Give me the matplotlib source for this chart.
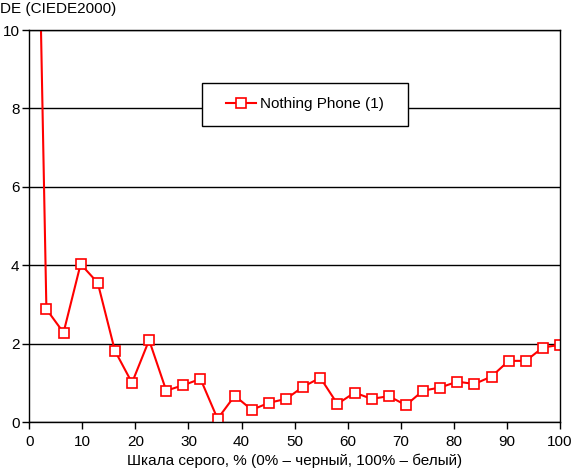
import matplotlib
matplotlib.use("Agg")
import matplotlib.pyplot as plt
from matplotlib.patches import Rectangle
import numpy as np

plt.rcParams['font.family'] = ['Liberation Sans', 'DejaVu Sans']

# grey level, % and DE values
gray = np.arange(32) * 100 / 31
de = [25.4, 2.88, 2.28, 4.03, 3.55, 1.82, 1.00, 2.09, 0.80, 0.94, 1.10,
      0.08, 0.67, 0.31, 0.49, 0.59, 0.90, 1.13, 0.46, 0.75, 0.59, 0.66,
      0.43, 0.80, 0.88, 1.03, 0.97, 1.16, 1.56, 1.56, 1.90, 1.97]
series_name = "Nothing Phone (1)"
xticks = list(range(0, 101, 10))
yticks = list(range(0, 11, 2))

fig = plt.figure(figsize=(5.73, 4.72), dpi=100)
ax = fig.add_axes([0.0511, 0.1059, 0.9262, 0.8305])

ax.plot(gray, de, color='#ff0000', lw=1.5, marker='s', ms=6.8,
        mfc='white', mec='#ff0000', mew=1.2, label=series_name)

ax.set_xlim(0, 100)
ax.set_ylim(0, 10)
ax.set_xticks(xticks)
ax.set_yticks(yticks)
ax.yaxis.grid(True, color='black', lw=1)
ax.set_axisbelow(True)
for s in ax.spines.values():
    s.set_color('black')
    s.set_linewidth(1)
ax.tick_params(direction='out', length=5, width=1, labelsize=11, colors='black')
ax.tick_params(axis='x', pad=4)
ax.tick_params(axis='y', pad=2)

ax.set_xlabel("Шкала серого, % (0% – черный, 100% – белый)", fontsize=11, labelpad=4)
fig.text(0.0, 0.981, "DE (CIEDE2000)", fontsize=11, va='center', ha='left')

# legend box drawn separately so padding matches the original
ax.add_patch(Rectangle((0.325, 0.756), 0.389, 0.108, transform=ax.transAxes,
                       facecolor='white', edgecolor='black', lw=1, zorder=4))
leg = ax.legend(loc='center', bbox_to_anchor=(0.5195, 0.81), fontsize=11,
                frameon=False, handlelength=2, handletextpad=0.25,
                borderaxespad=0)
leg.set_zorder(5)

fig.savefig("out.png", dpi=100)
